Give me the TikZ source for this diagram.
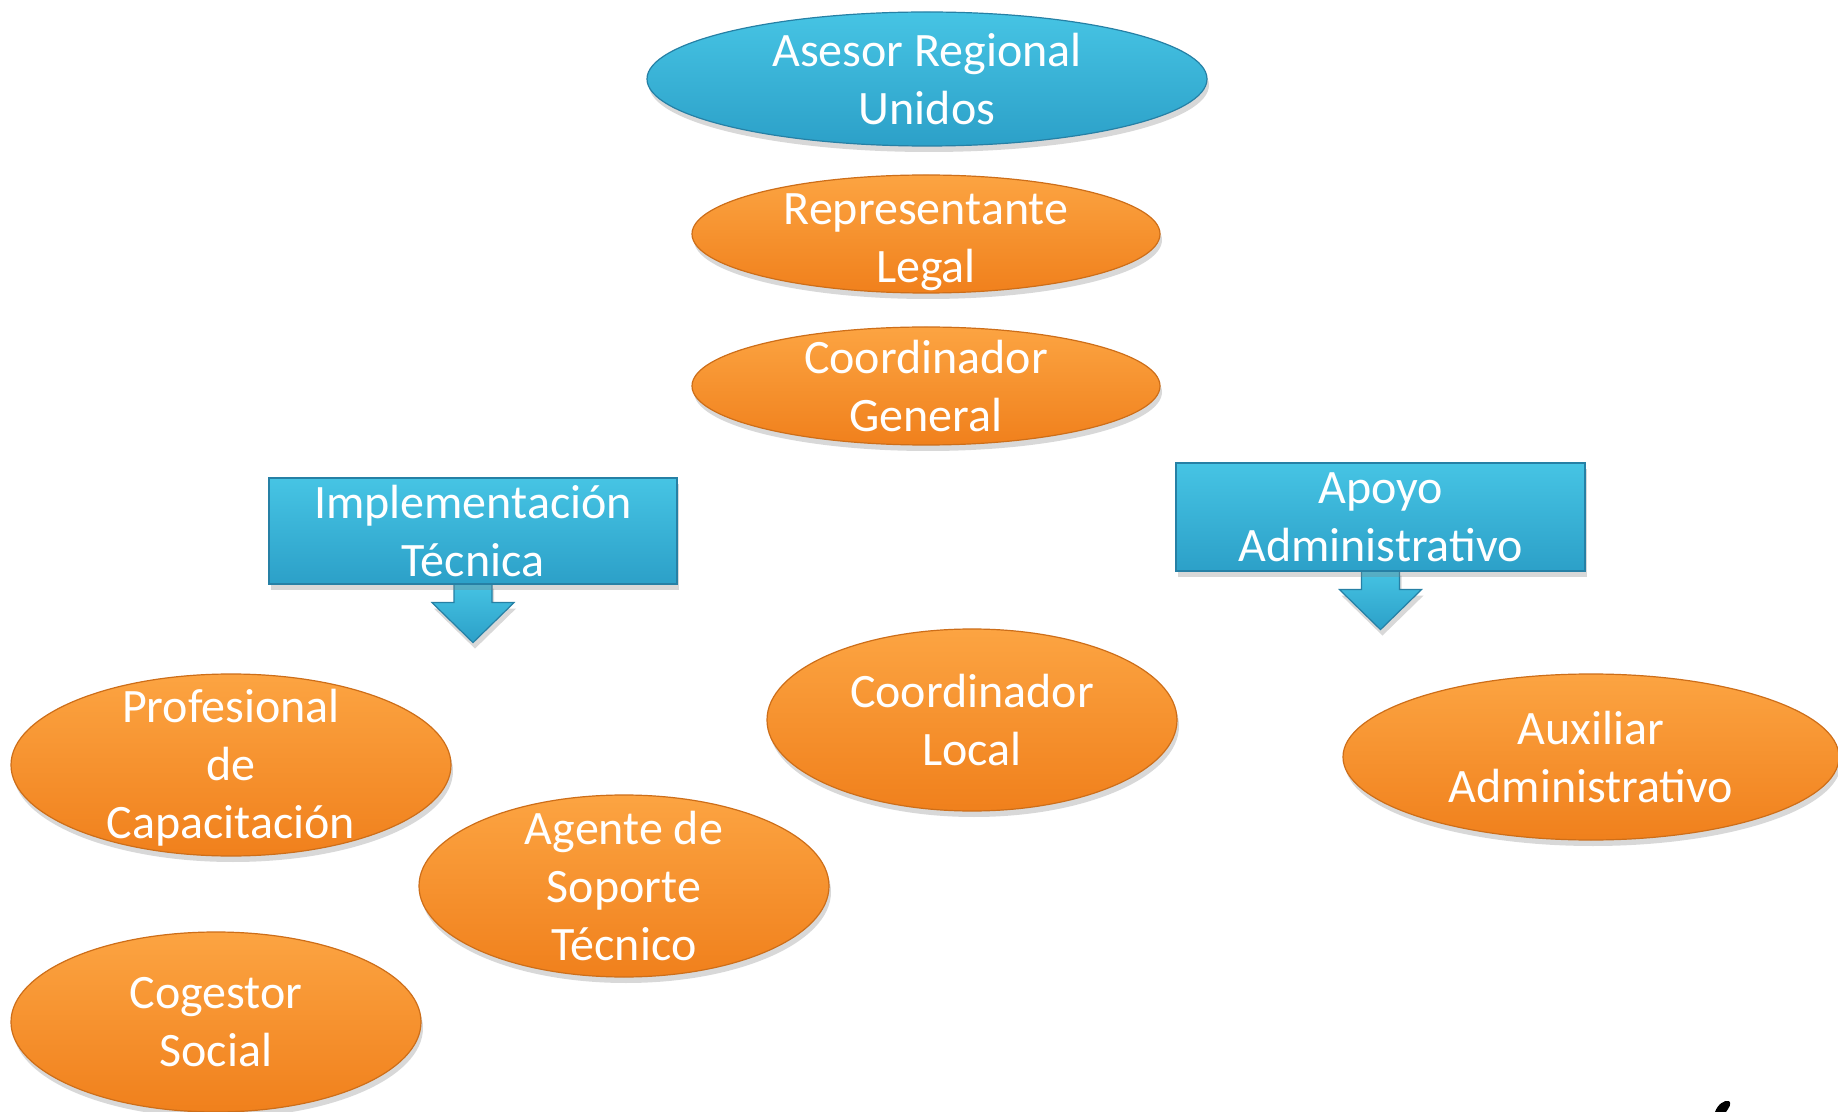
\documentclass[tikz,border=0pt]{standalone}
\usepackage{fontspec}
\setmainfont{Carlito}
\usetikzlibrary{shapes.geometric,shadows}
\definecolor{orA}{RGB}{252,164,66}
\definecolor{orB}{RGB}{240,128,28}
\definecolor{orE}{RGB}{205,110,25}
\definecolor{blA}{RGB}{70,196,228}
\definecolor{blB}{RGB}{44,160,200}
\definecolor{blE}{RGB}{38,128,165}
\pgfdeclarelayer{back}
\pgfdeclarelayer{bg}
\pgfsetlayers{back,bg,main}
\tikzset{
  lbl/.style={text=white, font=\fontsize{24}{29}\selectfont, align=center, inner sep=0pt},
  shad/.style={drop shadow={opacity=0.3, shadow xshift=1pt, shadow yshift=-3pt}},
  oval/.style={ellipse, inner sep=0pt, top color=orA, bottom color=orB, draw=orE, line width=0.6pt, shad},
  bluoval/.style={oval, top color=blA, bottom color=blB, draw=blE},
  blubox/.style={rectangle, inner sep=0pt, top color=blA, bottom color=blB, draw=blE, line width=0.6pt, shad},
  downarrow/.style={top color=blA, bottom color=blB, draw=blE, line width=0.6pt, shad}
}
\begin{document}
\begin{tikzpicture}[x=0.5pt,y=-0.5pt]
\begin{pgfonlayer}{back}
\fill[white] (0,0) rectangle (1838,1112);
\end{pgfonlayer}
\useasboundingbox (0,0) rectangle (1838,1112);

% top chain
\node[bluoval, minimum width=280pt, minimum height=67pt] (ase) at (927,79) {};
\node[lbl] (aseT) at (ase.center) {Asesor Regional\\Unidos};

\node[oval, minimum width=234pt, minimum height=59pt] (rep) at (926,234) {};
\node[lbl] (repT) at ([yshift=-4pt]rep.center) {Representante\\Legal};

\node[oval, minimum width=234pt, minimum height=59pt] (cg) at (926,386) {};
\node[lbl] (cgT) at (cg.center) {Coordinador\\General};

% boxes
\node[blubox, minimum width=204pt, minimum height=53pt] (imp) at (473,531) {};
\node[lbl] (impT) at (imp.center) {Implementación\\Técnica};

\node[blubox, minimum width=204.5pt, minimum height=54pt] (apo) at (1380.5,517) {};
\node[lbl] (apoT) at (apo.center) {Apoyo\\Administrativo};

\begin{pgfonlayer}{bg}
\begin{scope}[shift={(imp.south)}]
  \path[downarrow] (-19,-2) -- (-19,18) -- (-41,18) -- (0,58) -- (41,18) -- (19,18) -- (19,-2) -- cycle;
\end{scope}
\begin{scope}[shift={(apo.south)}]
  \path[downarrow] (-19,-2) -- (-19,18) -- (-41,18) -- (0,58) -- (41,18) -- (19,18) -- (19,-2) -- cycle;
\end{scope}
\end{pgfonlayer}

% lower ellipses
\node[oval, minimum width=220pt, minimum height=91pt] (pro) at (231,765) {};
\node[lbl] (proT) at ([yshift=-1.5pt]pro.center) {Profesional\\de\\Capacitación};

\node[oval, minimum width=205pt, minimum height=91pt] (age) at (624,886) {};
\node[lbl] (ageT) at (age.center) {Agente de\\Soporte\\Técnico};

\node[oval, minimum width=205pt, minimum height=90pt] (cog) at (216,1022) {};
\node[lbl] (cogT) at (cog.center) {Cogestor\\Social};

\node[oval, minimum width=205pt, minimum height=91pt] (col) at (972,720) {};
\node[lbl] (colT) at (col.center) {Coordinador\\Local};

\node[oval, minimum width=248pt, minimum height=83pt] (aux) at (1591,757) {};
\node[lbl] (auxT) at (aux.center) {Auxiliar\\Administrativo};

% small black mark at bottom edge
\fill[black] (1715,1112) .. controls (1718,1104) and (1724,1100) .. (1729,1101)
  .. controls (1732,1103) and (1729,1108) .. (1726,1112) -- cycle;
\end{tikzpicture}
\end{document}
